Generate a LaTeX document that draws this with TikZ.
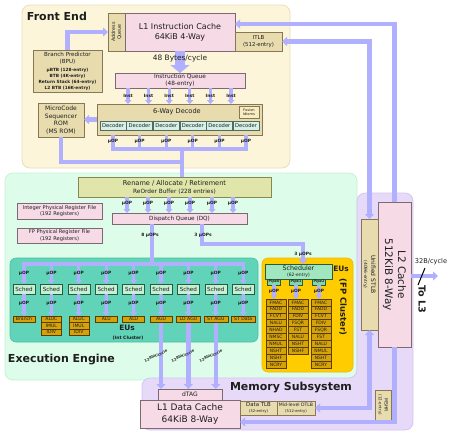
\documentclass[tikz,border=0pt]{standalone}
\usepackage{fontspec}
\setmainfont{DejaVu Sans}
\usetikzlibrary{arrows.meta}
\definecolor{txt}{RGB}{30,30,30}
\definecolor{lav}{RGB}{176,176,255}
\definecolor{fef}{RGB}{253,245,218}
\definecolor{fed}{RGB}{232,222,185}
\definecolor{eef}{RGB}{221,252,233}
\definecolor{eed}{RGB}{200,240,215}
\definecolor{mmf}{RGB}{230,218,248}
\definecolor{mmd}{RGB}{212,198,240}
\definecolor{pinkf}{RGB}{246,218,230}
\definecolor{pinkd}{RGB}{125,105,115}
\definecolor{tanf}{RGB}{232,220,175}
\definecolor{tand}{RGB}{135,120,85}
\definecolor{renf}{RGB}{224,230,170}
\definecolor{rend}{RGB}{135,135,85}
\definecolor{decf}{RGB}{214,242,232}
\definecolor{decd}{RGB}{85,105,95}
\definecolor{fusf}{RGB}{248,236,192}
\definecolor{schf}{RGB}{196,240,212}
\definecolor{schd}{RGB}{40,90,60}
\definecolor{euf}{RGB}{214,162,10}
\definecolor{eud}{RGB}{90,62,0}
\definecolor{intf}{RGB}{96,211,185}
\definecolor{intd}{RGB}{80,190,165}
\definecolor{fpf}{RGB}{255,204,0}
\definecolor{fpd}{RGB}{240,182,0}
\definecolor{fschf}{RGB}{160,230,190}
\definecolor{pipef}{RGB}{130,215,165}
\newcommand\fsz[2]{\fontsize{#1}{#2}\selectfont}
\newcommand\bx[7]{%
  \pgfmathsetmacro\bxcx{((#3)+(#5))/2}%
  \pgfmathsetmacro\bxcy{((#4)+(#6))/2}%
  \pgfmathsetmacro\bxw{(#5)-(#3)}%
  \pgfmathsetmacro\bxh{(#6)-(#4)}%
  \node[#1,minimum width=\bxw pt,minimum height=\bxh pt] (#2) at (\bxcx,\bxcy) {#7};%
}
\tikzset{
  Tri/.tip={Triangle[width=9pt,length=5pt]},
  tri/.tip={Triangle[width=7pt,length=4pt]},
  every node/.style={text=txt, inner sep=0pt, outer sep=0pt},
  box/.style={draw, line width=0.5pt, align=center},
  pinkb/.style={box, fill=pinkf, draw=pinkd},
  tanb/.style={box, fill=tanf, draw=tand},
  renb/.style={box, fill=renf, draw=rend},
  decb/.style={box, fill=decf, draw=decd, font=\fsz{5.2}{6}},
  fusb/.style={box, fill=fusf, draw=tand},
  schb/.style={box, fill=schf, draw=schd, font=\fsz{5.6}{6}},
  fschb/.style={box, fill=fschf, draw=schd},
  pipeb/.style={box, fill=pipef, draw=schd, font=\bfseries\fsz{3.4}{4}},
  eub/.style={box, fill=euf, draw=eud, font=\fsz{4.6}{5}},
  fub/.style={box, fill=euf, draw=eud, font=\fsz{4.5}{5}},
  title/.style={font=\bfseries\fsz{11}{13}},
  lbl/.style={font=\bfseries\fsz{4.4}{5}},
  pipe/.style={draw=lav, line width=4.5pt},
  narrow/.style={draw=lav, line width=3.2pt},
  bigarr/.style={draw=lav, line width=10pt, -{Triangle[width=19pt,length=8pt]}},
}
\begin{document}
\begin{tikzpicture}[x=1pt,y=-1pt]
\useasboundingbox (0,0) rectangle (450,432);
% region backgrounds
\draw[fill=fef, draw=fed, line width=0.8pt, rounded corners=8pt] (22,5) rectangle (290,168);
\draw[fill=eef, draw=eed, line width=0.8pt, rounded corners=8pt] (5,173) rectangle (357,380);
\draw[fill=mmf, draw=mmd, line width=0.8pt, rounded corners=8pt] (357,193) -- (413,193) -- (413,430) -- (142,430) -- (142,378) -- (357,378) -- cycle;
\draw[fill=intf, draw=intd, line width=0.6pt, rounded corners=6pt] (10,258) rectangle (258,342);
\draw[fill=fpf, draw=fpd, line width=0.6pt, rounded corners=6pt] (262,258) rectangle (353,372);

% ---------- Front End ----------
\node[title, anchor=west] at (27,16) {Front End};
\bx{tanb}{AQ}{108}{13}{125}{51}{}
\node[rotate=90, align=center, font=\fsz{4.8}{5.6}] at (AQ.center) {Address\\Queue};
\bx{pinkb, font=\fsz{8}{10}}{L1I}{125}{13}{235}{51}{L1 Instruction Cache\\64KiB 4-Way}
\bx{tanb, font=\fsz{5.4}{6.6}}{ITLB}{235}{32}{282}{51}{ITLB\\(512-entry)}
\bx{tanb, font=\bfseries\fsz{4.3}{6}}{BPU}{33}{50}{102}{92}{\mdseries\fsz{5.6}{6}Branch Predictor\\[1.6pt]\mdseries\fsz{5.6}{6}(BPU)\\[1.2pt]μBTB (128-entry)\\BTB (4K-entry)\\Return Stack (64-entry)\\L2 BTB (16K-entry)}
\bx{pinkb, font=\fsz{5.8}{6.6}}{IQ}{115}{73}{245}{88}{Instruction Queue\\(48-entry)}
\bx{tanb}{DEC}{97}{104}{262}{135}{}
\node[font=\fsz{6.6}{7}] (DECT) at (177,112) {6-Way Decode};
\bx{fusb, font=\fsz{3.6}{4.2}}{FUS}{239}{106}{259}{118}{Fusion\\Idioms}
\foreach \i in {0,...,5}{%
  \pgfmathsetmacro\dx{100+26.6*\i}%
  \bx{decb}{d\i}{\dx}{121}{\dx+26}{130}{Decoder}
}
\bx{tanb, font=\fsz{6}{7.6}}{MS}{38}{103}{84}{137}{MicroCode\\Sequencer\\ROM\\(MS ROM)}

% front end connectors
\draw[pipe,-Tri] (BPU.north) |- (AQ.west);
\draw[bigarr] (L1I.south) -- (IQ.north);
\node[font=\fsz{7.4}{8}] at (180,58) {48 Bytes/cycle};
\foreach \xx in {128,148.6,169.2,189.8,210.4,231}{%
  \coordinate (ia) at (\xx,0);
  \draw[narrow,-tri] (IQ.south -| ia) -- (DEC.north -| ia);
  \node[lbl] at (\xx,96) {Inst};
}
\coordinate (mrg) at (182,149);
\coordinate (ulbl) at (0,141);
\draw[narrow, line cap=rect] (d0 |- mrg) -- (d5 |- mrg);
\foreach \i in {0,...,5}{%
  \draw[narrow] (DEC.south -| d\i) -- (d\i |- mrg);
  \node[lbl] at (d\i |- ulbl) {μOP};
}
\coordinate (msj) at (182,162);
\draw[pipe] (MS.south) |- (msj);
\draw[pipe,-Tri] (DEC.west) -- (DEC.west -| MS.east);

% ---------- Execution Engine ----------
\node[title, anchor=west] at (8,360) {Execution Engine};
\bx{renb, font=\fsz{5.8}{8.2}}{REN}{78}{177}{271}{197}{\fsz{6.6}{8.2}Rename / Allocate / Retirement\\ReOrder Buffer (228 entries)}
\draw[pipe] (mrg) -- (REN.north -| mrg);
\bx{pinkb, font=\fsz{5.7}{6}}{DQ}{112}{213}{247}{224}{Dispatch Queue (DQ)}
\bx{pinkb, font=\fsz{5.1}{6.2}}{IPRF}{17}{203}{102}{219}{Integer Physical Register File\\(192 Registers)}
\bx{pinkb, font=\fsz{5.1}{6.2}}{FPRF}{17}{228}{102}{243}{FP Physical Register File\\(192 Registers)}
\foreach \xx in {127,148,169,190,212,233}{%
  \coordinate (ua) at (\xx,0);
  \draw[narrow,-tri] (REN.south -| ua) -- (DQ.north -| ua);
  \node[lbl] at (\xx,203) {μOP};
}

% int cluster
\foreach \i in {1,...,9}{%
  \pgfmathsetmacro\sx{24+27.4*(\i-1)}%
  \bx{schb}{s\i}{\sx-11}{284}{\sx+11}{294}{Sched}
}
\bx{eub}{e1}{13}{316}{35}{322.5}{Branch}
\bx{eub}{e2}{41.4}{316}{61.4}{322.5}{ALUC}
\bx{eub}{e2b}{41.4}{322.5}{61.4}{329}{IMUL}
\bx{eub}{e2c}{41.4}{329}{61.4}{335.5}{IDIV}
\bx{eub}{e3}{68.8}{316}{88.8}{322.5}{ALUC}
\bx{eub}{e3b}{68.8}{322.5}{88.8}{329}{IMUL}
\bx{eub}{e3c}{68.8}{329}{88.8}{335.5}{IDIV}
\bx{eub}{e4}{95.2}{316}{117.2}{322.5}{ALU}
\bx{eub}{e5}{122.6}{316}{144.6}{322.5}{ALU}
\bx{eub}{e6}{150}{316}{172}{322.5}{AGU}
\bx{eub}{e7}{176.4}{316}{200.4}{322.5}{LD AGU}
\bx{eub}{e8}{203.8}{316}{227.8}{322.5}{ST AGU}
\bx{eub}{e9}{231.2}{316}{255.2}{322.5}{ST Data}
\node[font=\bfseries\fsz{7.4}{8}] at (127,328) {EUs};
\node[font=\bfseries\fsz{4.5}{5}] at (128,338) {(Int Cluster)};

\coordinate (barrow) at (0,264);
\coordinate (c8) at (152,0);
\coordinate (l1row) at (0,273);
\coordinate (l2row) at (0,303);
\draw[pipe] (DQ.south -| c8) -- (c8 |- barrow);
\draw[pipe, line cap=rect] (s1 |- barrow) -- (s9 |- barrow);
\node[lbl] at (150,235) {8 μOPs};
\foreach \i in {1,...,9}{%
  \draw[narrow,-tri] (s\i |- barrow) -- (s\i.north);
  \draw[narrow,-tri] (s\i.south) -- (e\i.north);
  \node[lbl] at (s\i |- l1row) {μOP};
  \node[lbl] at (s\i |- l2row) {μOP};
}

% FP cluster
\bx{fschb, font=\fsz{4.5}{6.6}}{SCH}{265}{264}{332}{279}{\fsz{6.3}{6.6}Scheduler\\(62-entry)}
\node[font=\bfseries\fsz{7.4}{8}] at (341,269) {EUs};
\node[font=\bfseries\fsz{8.4}{9}, rotate=-90] at (343,307) {(FP Cluster)};
\coordinate (c3) at (202,0);
\coordinate (t3) at (303,244);
\draw[pipe,-Tri] (DQ.south -| c3) |- (t3) -- (SCH.north -| t3);
\node[lbl] at (203,235) {3 μOPs};
\node[lbl] at (303,254) {3 μOPs};
\bx{pipeb}{p0}{267.5}{279}{280.5}{285}{Pipe0}
\bx{pipeb}{p1}{289.5}{279}{302.5}{285}{Pipe1}
\bx{pipeb}{p2}{312.5}{279}{325.5}{285}{Pipe2}
\foreach \u [count=\k from 0] in {FMAC,FADD,FCVT,NALU,NHAD,NMSC,NMUL,NSHT,NSHF,NCRY}{%
  \pgfmathsetmacro\fy{299+6.9*\k}%
  \bx{fub}{fa\k}{266}{\fy}{286}{\fy+6.9}{\u}
}
\foreach \u [count=\k from 0] in {FMAC,FADD,FDIV,FSQR,FST,NALU,NSHT,NSHF}{%
  \pgfmathsetmacro\fy{299+6.9*\k}%
  \bx{fub}{fb\k}{288}{\fy}{308}{\fy+6.9}{\u}
}
\foreach \u [count=\k from 0] in {FMAC,FADD,FCVT,FDIV,FSQR,FST,NALU,NMUL,NSHT,NCRY}{%
  \pgfmathsetmacro\fy{299+6.9*\k}%
  \bx{fub}{fc\k}{311}{\fy}{331}{\fy+6.9}{\u}
}
\coordinate (l3row) at (0,291);
\draw[narrow,-tri] (p0.south) -- (fa0.north -| p0);
\draw[narrow,-tri] (p1.south) -- (fb0.north -| p1);
\draw[narrow,-tri] (p2.south) -- (fc0.north -| p2);
\node[lbl] at (p0 |- l3row) {μOP};
\node[lbl] at (p1 |- l3row) {μOP};
\node[lbl] at (p2 |- l3row) {μOP};

% ---------- Memory Subsystem ----------
\node[title] at (291,387) {Memory Subsystem};
\bx{pinkb, font=\fsz{6}{7}}{DTAG}{158}{389}{222}{400}{dTAG}
\bx{pinkb, font=\fsz{9}{12}}{L1D}{140}{400}{240}{428}{L1 Data Cache\\64KiB 8-Way}
\bx{tanb, font=\fsz{3.8}{6}}{DTLB}{240}{401}{277}{415}{\fsz{5.4}{6}Data TLB\\(32-entry)}
\bx{tanb, font=\fsz{3.8}{6}}{MDTLB}{277}{401}{315}{415}{\fsz{4.6}{6}Mid-level DTLB\\(512-entry)}
\bx{tanb}{MSHR}{375}{390}{391}{420}{}
\node[rotate=-90, align=center, font=\fsz{4}{5.6}] at (MSHR.center) {\fsz{4.6}{5.6}MSHR\\(12-entry)};
\bx{pinkb}{L2}{378}{202}{411}{347}{}
\node[rotate=-90, align=center, font=\fsz{10.4}{13}] at (L2.center) {L2 Cache\\512KiB 8-Way};
\bx{tanb}{STLB}{361}{219}{378}{330}{}
\node[rotate=-90, align=center, font=\fsz{4.4}{7}] at (STLB.center) {\fsz{6}{7}Unified STLB\\(4096-entry)};

\foreach \i in {6,7,8}{%
  \draw[pipe,-Tri] (e\i.south) -- (DTAG.north -| e\i);
}
\node[font=\bfseries\fsz{3.6}{4}, rotate=25] at (156,356) {128bit/cycle};
\node[font=\bfseries\fsz{3.6}{4}, rotate=25] at (183,356) {128bit/cycle};
\node[font=\bfseries\fsz{3.6}{4}, rotate=25] at (211,356) {128bit/cycle};

\draw[pipe,Tri-] ([yshift=8pt]L1I.east) -| (L2.north);
\draw[pipe,Tri-Tri] (ITLB.east) -| (STLB.north);
\draw[pipe,Tri-Tri] (STLB.south) |- (MDTLB.east);
\draw[pipe,-Tri] (L2.south) |- ([yshift=-8pt]L1D.east);

\coordinate (l3) at (438,276);
\draw[pipe,-Tri] (L2.east |- l3) -- (l3);
\draw[line width=1pt, black] (418,285) -- (425,268);
\node[font=\fsz{6.6}{7}] at (431,262) {32B/cycle};
\node[font=\bfseries\fsz{9.6}{10}, rotate=-90] at (422,299) {To L3};
\end{tikzpicture}
\end{document}
